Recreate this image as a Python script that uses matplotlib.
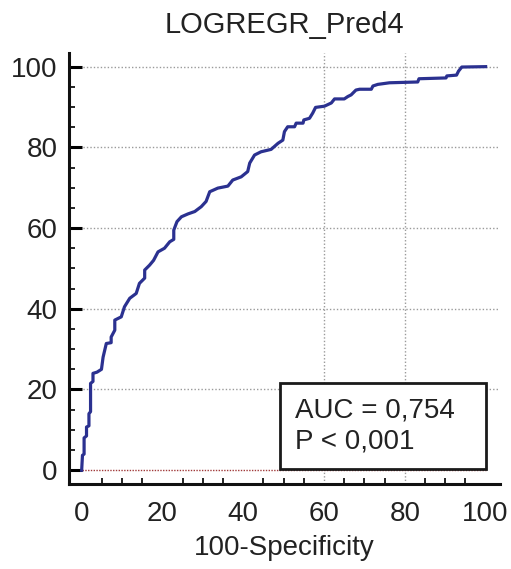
import numpy as np
import matplotlib
matplotlib.use('Agg')
import matplotlib.pyplot as plt
from matplotlib.patches import Rectangle
from matplotlib.ticker import MultipleLocator, FixedLocator

plt.rcParams['font.family'] = ['Liberation Sans', 'DejaVu Sans']

# ROC curve (100-specificity, sensitivity)
fpr = [0, 0.2, 0.6, 0.6, 1.2, 1.2, 1.8, 1.8, 2.2, 2.2, 2.8, 2.8, 3.8, 4.9, 5.3,
       6.1, 7.3, 7.3, 8.2, 8.2, 9.8, 10.6, 11.9, 13.5, 14.3, 15.6, 15.6, 16.8,
       17.8, 18.9, 20.5, 21.8, 22.8, 22.8, 23.6, 24.7, 26.3, 28.0, 29.6, 30.8,
       31.7, 33.7, 36.2, 37.4, 39.5, 41.1, 41.6, 42.8, 44.4, 46.9, 48.6, 49.8,
       50.2, 51.0, 52.7, 53.1, 54.8, 55.0, 56.4, 57.2, 57.9, 60.1, 61.8, 62.6,
       65.0, 65.9, 66.7, 67.9, 68.8, 71.7, 72.1, 73.3, 76.2, 83.2, 83.5, 90.2,
       90.4, 92.8, 93.3, 94.1, 100]
tpr = [0, 3.7, 4, 8, 8.5, 10.7, 11, 14, 14.5, 21.5, 22, 24, 24.3, 25, 28,
       31.4, 31.6, 33, 34.7, 37.2, 38, 40.5, 42.6, 43.8, 46.3, 47.6, 49.6, 50.8,
       52, 54.1, 55, 56.6, 57.2, 59.5, 61.6, 62.8, 63.5, 64.1, 65.3, 66.6,
       69, 69.9, 70.4, 71.9, 72.7, 74, 76.1, 78.1, 78.9, 79.5, 81, 81.8,
       83.9, 85.1, 85.1, 86, 86, 86.8, 87.2, 88.5, 89.9, 90.2, 91, 92,
       92, 92.6, 93, 94.2, 94.4, 94.4, 95.2, 95.6, 96, 96.2, 97, 97.2,
       97.7, 97.9, 98.9, 99.9, 100]

ticks = [0, 20, 40, 60, 80, 100]
auc_text = "AUC = 0,754\nP < 0,001"

fig = plt.figure(figsize=(5.11, 5.69), dpi=100)
ax = fig.add_axes([0.135, 0.149, 0.843, 0.758])

ax.set_xlim(-3.14, 103.5)
ax.set_ylim(-3.47, 103.4)

grid_col = '#9a9a9a'
for v in [20, 40, 60, 80, 100]:
    ax.axhline(v, color=grid_col, lw=1, ls=(0, (1, 1.5)), zorder=1)
for v in [60, 80]:
    ax.axvline(v, color=grid_col, lw=1, ls=(0, (1, 1.5)), zorder=1)
ax.plot([0, 100], [0, 0], color='#a03a3a', lw=1, ls=(0, (1, 1)), zorder=2)

ax.plot(fpr, tpr, color='#2b3190', lw=2.3, zorder=3)

ax.add_patch(Rectangle((49, 0.2), 51, 21.4, facecolor='white',
                       edgecolor='#1a1a1a', lw=2, zorder=4))
ax.text(52.7, 11, auc_text, fontsize=20, color='#222222', va='center',
        ha='left', linespacing=1.25, zorder=5)

for s in ['top', 'right']:
    ax.spines[s].set_visible(False)
for s in ['left', 'bottom']:
    ax.spines[s].set_linewidth(2.2)
    ax.spines[s].set_color('#111111')

ax.set_xticks(ticks)
ax.set_yticks(ticks)
ax.xaxis.set_minor_locator(FixedLocator([v for v in range(5, 100, 5) if v % 20]))
ax.yaxis.set_minor_locator(FixedLocator([v for v in range(5, 100, 5) if v % 20]))
ax.tick_params(axis='y', which='major', direction='in', length=9, width=2.2,
               pad=8, labelsize=20, labelcolor='#222222')
ax.tick_params(axis='y', which='minor', direction='in', length=4.5, width=1.2)
ax.tick_params(axis='x', which='major', direction='in', length=0, pad=12,
               labelsize=20, labelcolor='#222222')
ax.tick_params(axis='x', which='minor', direction='in', length=4.5, width=1.2)

ax.set_title('LOGREGR_Pred4', fontsize=21, color='#222222', pad=14)
ax.set_xlabel('100-Specificity', fontsize=20, color='#222222', labelpad=6)

fig.savefig('out.png', dpi=100)
